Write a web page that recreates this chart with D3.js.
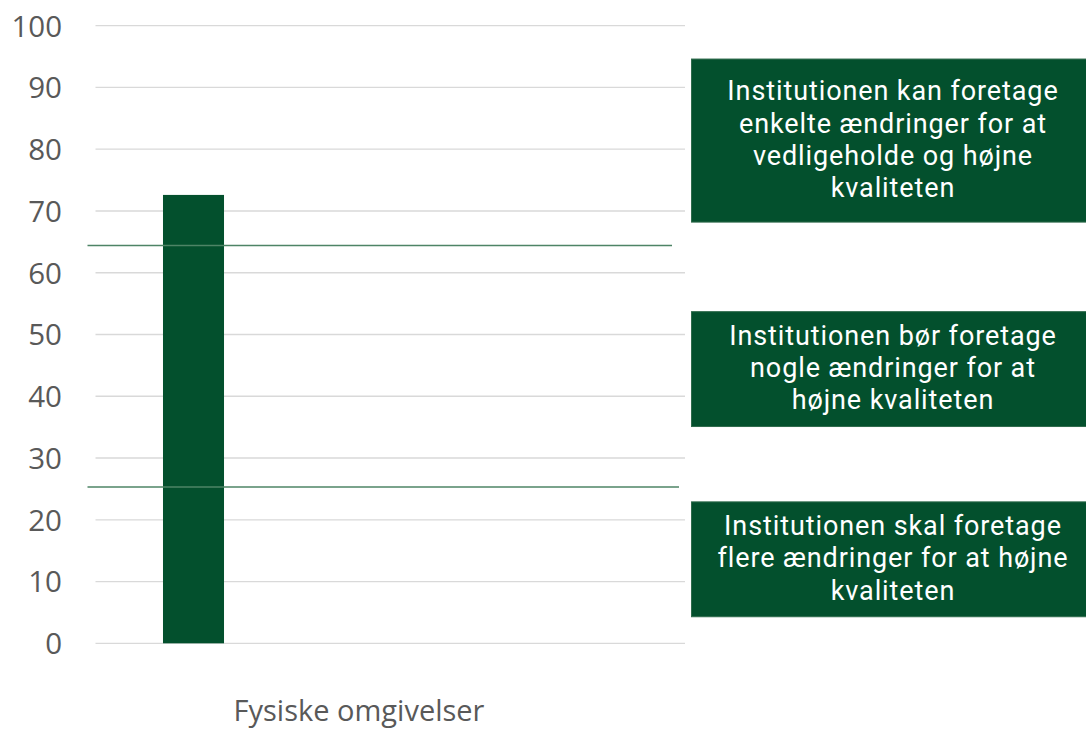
<!DOCTYPE html>
<html><head><meta charset="utf-8">
<script src="https://cdn.jsdelivr.net/npm/d3@7"></script>
<style>body{margin:0;background:#fff}</style>
</head><body><svg id="c" width="1086" height="729"></svg>
<script>
const categories = ["Fysiske omgivelser"];
const values = [72.6];
const thresholds = [64.4, 25.3];
const yTicks = [0,10,20,30,40,50,60,70,80,90,100];
const boxTexts = [
  ["Institutionen kan foretage","enkelte ændringer for at","vedligeholde og højne","kvaliteten"],
  ["Institutionen bør foretage","nogle ændringer for at","højne kvaliteten"],
  ["Institutionen skal foretage","flere ændringer for at højne","kvaliteten"]
];
const boxRanges = [[94.6, 68.2], [53.7, 35.1], [22.9, 4.3]];

const svg = d3.select("#c");
const font = "'Open Sans', 'Noto Sans', sans-serif";
const boxFont = "Roboto, 'Open Sans', sans-serif";
const y = d3.scaleLinear().domain([0,100]).range([643.3, 25.7]);
const x = d3.scaleBand().domain(categories).range([95, 292]).paddingInner(0.527).paddingOuter(0.527);

// gridlines
svg.append("g").selectAll("line").data(yTicks).join("line")
  .attr("x1",95.5).attr("x2",685).attr("y1",d=>y(d)).attr("y2",d=>y(d))
  .attr("stroke","#d9d9d9").attr("stroke-width",1.3);

// y tick labels
svg.append("g").selectAll("text").data(yTicks).join("text")
  .attr("x",62).attr("y",d=>y(d)).attr("dy","0.37em")
  .attr("text-anchor","end").attr("font-family",font).attr("font-size",29.5)
  .attr("fill","#595959").text(d=>d);

// bar
svg.append("g").selectAll("rect").data(values).join("rect")
  .attr("x",(d,i)=>x(categories[i])).attr("width",x.bandwidth())
  .attr("y",d=>y(d)).attr("height",d=>y(0)-y(d)).attr("fill","#03502d");

// threshold lines
const tEnds = [672, 679];
svg.append("g").selectAll("line").data(thresholds).join("line")
  .attr("x1",87.5).attr("x2",(d,i)=>tEnds[i]).attr("y1",d=>y(d)).attr("y2",d=>y(d))
  .attr("stroke","#4e8466").attr("stroke-width",1.4);

// x label
svg.append("text").attr("x",359).attr("y",720.5).attr("text-anchor","middle")
  .attr("font-family",font).attr("font-size",29).attr("fill","#595959").text(categories[0]);

// boxes
const bg = svg.append("g");
boxTexts.forEach((lines,i)=>{
  const top = y(boxRanges[i][0]), bot = y(boxRanges[i][1]);
  bg.append("rect").attr("x",691.5).attr("y",top).attr("width",400).attr("height",bot-top)
    .attr("fill","#03502d").attr("stroke","#2f6b4c").attr("stroke-width",1);
  const cy = (top+bot)/2, lh = 32.3;
  lines.forEach((l,j)=>{
    bg.append("text").attr("text-anchor","middle").attr("font-family",boxFont)
      .attr("font-size",27).attr("letter-spacing",0.9).attr("fill","#ffffff")
      .attr("x",893).attr("y",cy + (j-(lines.length-1)/2)*lh).attr("dy","0.3em").text(l);
  });
});
</script></body></html>
